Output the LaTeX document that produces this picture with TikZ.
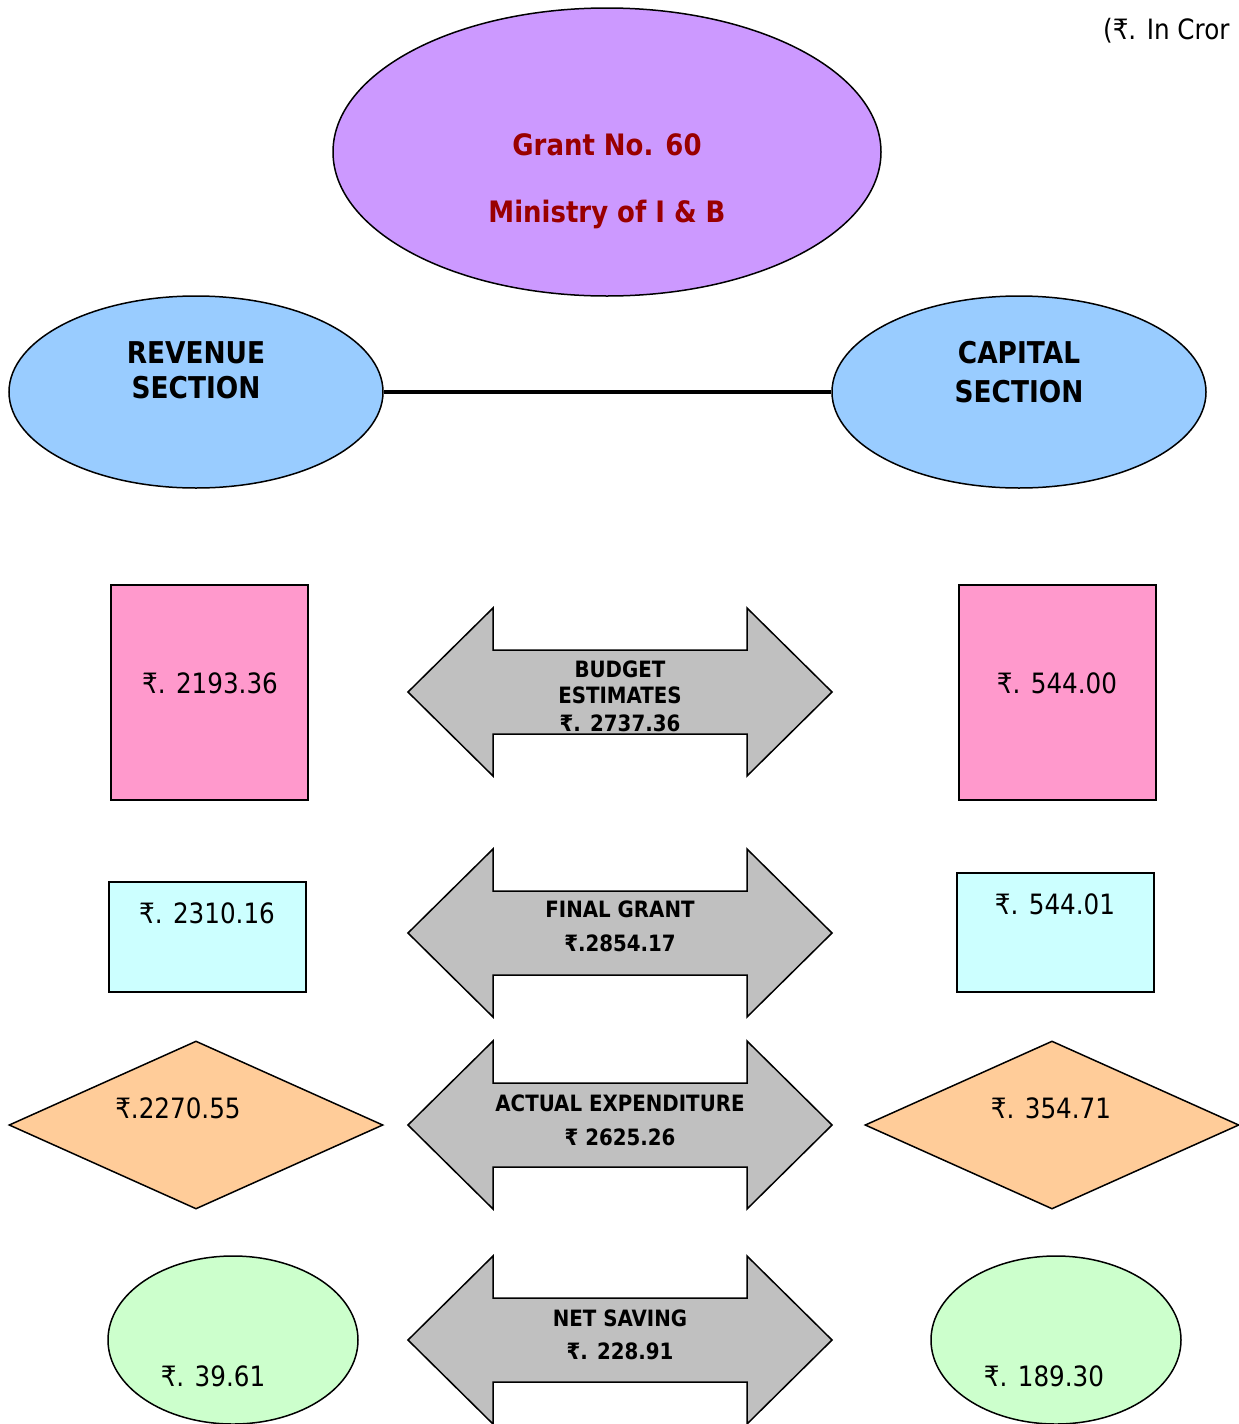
\documentclass[tikz,border=0pt]{standalone}
\usepackage{fontspec}
\setmainfont{DejaVu Sans}[FakeStretch=0.88]
\usetikzlibrary{shapes.geometric}
\definecolor{purp}{HTML}{CC99FF}
\definecolor{sky}{HTML}{99CCFF}
\definecolor{pinkb}{HTML}{FF99CC}
\definecolor{cyanb}{HTML}{CCFFFF}
\definecolor{orangeb}{HTML}{FFCC99}
\definecolor{greenb}{HTML}{CCFFCC}
\definecolor{grayb}{HTML}{C0C0C0}
\definecolor{darkred}{HTML}{990000}
\newcommand{\dblarrow}[1]{(408,#1) -- (493,#1-84) -- (493,#1-42) -- (747,#1-42) -- (747,#1-84) -- (832,#1) -- (747,#1+84) -- (747,#1+42) -- (493,#1+42) -- (493,#1+84) -- cycle}
\begin{document}
\begin{tikzpicture}[x=1pt,y=-1pt,
  shapebox/.style={draw=black,line width=1.5pt,inner sep=0pt},
  numtxt/.style={anchor=base,font=\fontsize{28}{32}\selectfont,inner sep=0pt},
  boldtxt/.style={anchor=base,font=\fontsize{22.5}{26}\selectfont\bfseries,inner sep=0pt},
  sectxt/.style={anchor=base,font=\fontsize{30}{34}\selectfont\bfseries,inner sep=0pt},
  granttxt/.style={anchor=base,font=\fontsize{29.5}{34}\selectfont\bfseries,text=darkred,inner sep=0pt},
  arrowfill/.style={fill=grayb},
  arrowline/.style={draw=black,line width=1.5pt,line join=miter}]
\useasboundingbox (0,0) rectangle (1239,1424);
\fill[white] (0,0) rectangle (1239,1424);

% header
\node[numtxt,anchor=base west] (unit) at (1103,39) {(₹. In Cror};

% top ellipse
\node[shapebox,ellipse,fill=purp,minimum width=548pt,minimum height=288pt] (grant) at (607,152) {};
\node[granttxt] (g1) at (607,155) {Grant No. 60};
\node[granttxt] (g2) at (607,222) {Ministry of I \& B};

% sections
\node[shapebox,ellipse,fill=sky,minimum width=374pt,minimum height=192pt] (rev) at (196,392) {};
\node[shapebox,ellipse,fill=sky,minimum width=374pt,minimum height=192pt] (cap) at (1019,392) {};
\draw[line width=4pt] (rev.east) -- (cap.west);
\node[sectxt] (r1) at (196,363) {REVENUE};
\node[sectxt] (r2) at (196,398) {SECTION};
\node[sectxt] (c1) at (1019,363) {CAPITAL};
\node[sectxt] (c2) at (1019,402) {SECTION};

% budget estimates
\node[shapebox,rectangle,fill=pinkb,minimum width=197pt,minimum height=215pt] (be1) at (209.5,692.5) {};
\node[shapebox,rectangle,fill=pinkb,minimum width=197pt,minimum height=215pt] (be2) at (1057.5,692.5) {};
\node[numtxt] (be1t) at (210,693) {₹. 2193.36};
\node[numtxt] (be2t) at (1057,693) {₹. 544.00};
\fill[arrowfill] \dblarrow{692};
\begin{scope}
\clip \dblarrow{692};
\node[boldtxt] (a1a) at (620,677.5) {BUDGET};
\node[boldtxt] (a1b) at (620,703.5) {ESTIMATES};
\node[boldtxt] (a1c) at (620,731) {₹. 2737.36};
\end{scope}
\draw[arrowline] \dblarrow{692};

% final grant
\node[shapebox,rectangle,fill=cyanb,minimum width=197pt,minimum height=110pt] (fg1) at (207.5,937) {};
\node[shapebox,rectangle,fill=cyanb,minimum width=197pt,minimum height=119pt] (fg2) at (1055.5,932.5) {};
\node[numtxt] (fg1t) at (207,923) {₹. 2310.16};
\node[numtxt] (fg2t) at (1055,914) {₹. 544.01};
\fill[arrowfill] \dblarrow{933};
\draw[arrowline] \dblarrow{933};
\node[boldtxt] (a2a) at (620,917.5) {FINAL GRANT};
\node[boldtxt] (a2b) at (620,951.5) {₹.2854.17};

% actual expenditure
\node[shapebox,diamond,fill=orangeb,minimum width=374pt,minimum height=168pt] (ae1) at (196,1125) {};
\node[shapebox,diamond,fill=orangeb,minimum width=374pt,minimum height=168pt] (ae2) at (1052,1125) {};
\node[numtxt] (ae1t) at (178,1118) {₹.2270.55};
\node[numtxt] (ae2t) at (1051,1118) {₹. 354.71};
\fill[arrowfill] \dblarrow{1125};
\draw[arrowline] \dblarrow{1125};
\node[boldtxt] (a3a) at (620,1111) {ACTUAL EXPENDITURE};
\node[boldtxt] (a3b) at (620,1145) {₹ 2625.26};

% net saving
\node[shapebox,ellipse,fill=greenb,minimum width=250pt,minimum height=168pt] (ns1) at (233,1340) {};
\node[shapebox,ellipse,fill=greenb,minimum width=250pt,minimum height=168pt] (ns2) at (1056,1340) {};
\node[numtxt] (ns1t) at (213,1386) {₹. 39.61};
\node[numtxt] (ns2t) at (1044,1386) {₹. 189.30};
\fill[arrowfill] \dblarrow{1340};
\draw[arrowline] \dblarrow{1340};
\node[boldtxt] (a4a) at (620,1326.5) {NET SAVING};
\node[boldtxt] (a4b) at (620,1359.5) {₹. 228.91};
\end{tikzpicture}
\end{document}
